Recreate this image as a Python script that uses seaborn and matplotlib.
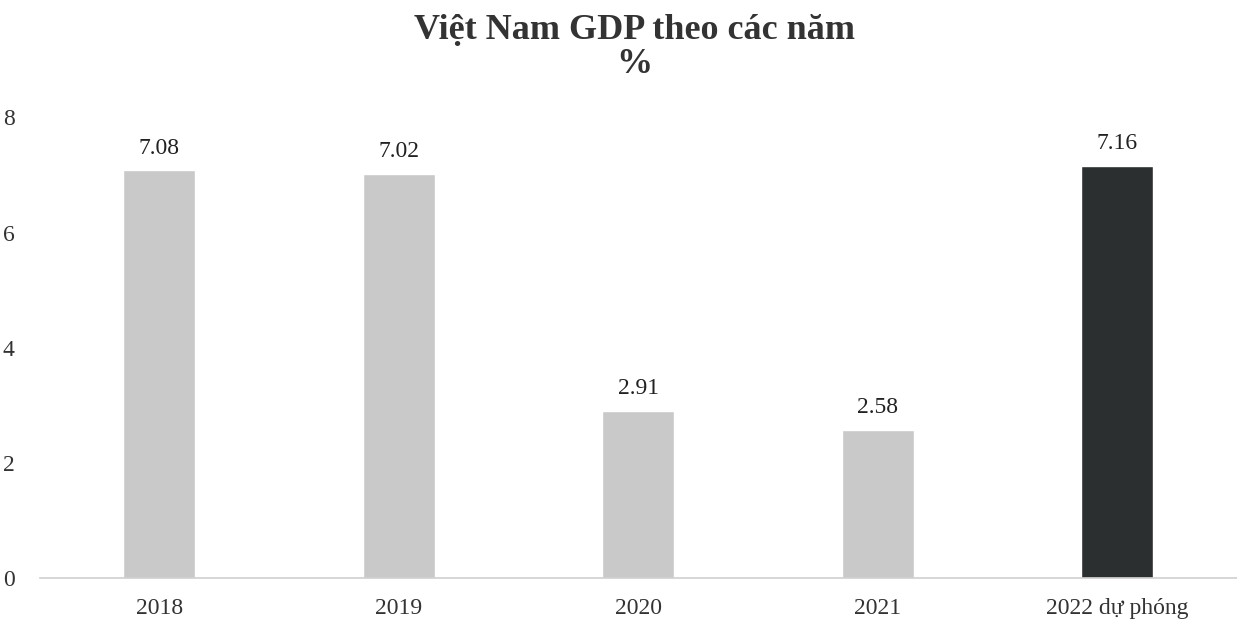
import pandas as pd
import matplotlib
matplotlib.use("Agg")
import matplotlib.pyplot as plt
import seaborn as sns

years = ["2018", "2019", "2020", "2021", "2022 dự phóng"]
gdp = [7.08, 7.02, 2.91, 2.58, 7.16]
bar_colors = ["#c9c9c9", "#c9c9c9", "#c9c9c9", "#c9c9c9", "#2b2f2f"]

df = pd.DataFrame({"year": years, "gdp": gdp})

sns.set_style("white")
plt.rcParams['font.family'] = ['Liberation Serif', 'DejaVu Serif']

fig = plt.figure(figsize=(12.37, 6.34), dpi=100)
ax = fig.add_axes([0.032, 0.088, 0.968, 0.727])

sns.barplot(data=df, x="year", y="gdp", hue="year", palette=bar_colors,
            width=0.3, legend=False, ax=ax, saturation=1)

for i, v in enumerate(gdp):
    ax.text(i, v + 0.2, f"{v:.2f}", ha="center", va="bottom", fontsize=17, color="#222222")

ax.set_ylim(0, 8)
ax.set_yticks([0, 2, 4, 6, 8])
ax.tick_params(axis="both", length=0, labelsize=17, colors="#333333")
ax.tick_params(axis="y", pad=18)
ax.tick_params(axis="x", pad=14)
ax.set_xlabel("")
ax.set_ylabel("")
for s in ["top", "right", "left"]:
    ax.spines[s].set_visible(False)
ax.spines["bottom"].set_color("#cfcfcf")
ax.spines["bottom"].set_linewidth(1.2)

fig.text(0.513, 0.952, "Việt Nam GDP theo các năm", ha="center", va="center",
         fontsize=26, fontweight="bold", color="#333333")
fig.text(0.513, 0.898, "%", ha="center", va="center",
         fontsize=26, fontweight="bold", color="#333333")

fig.savefig("out.png", dpi=100, facecolor="white")
